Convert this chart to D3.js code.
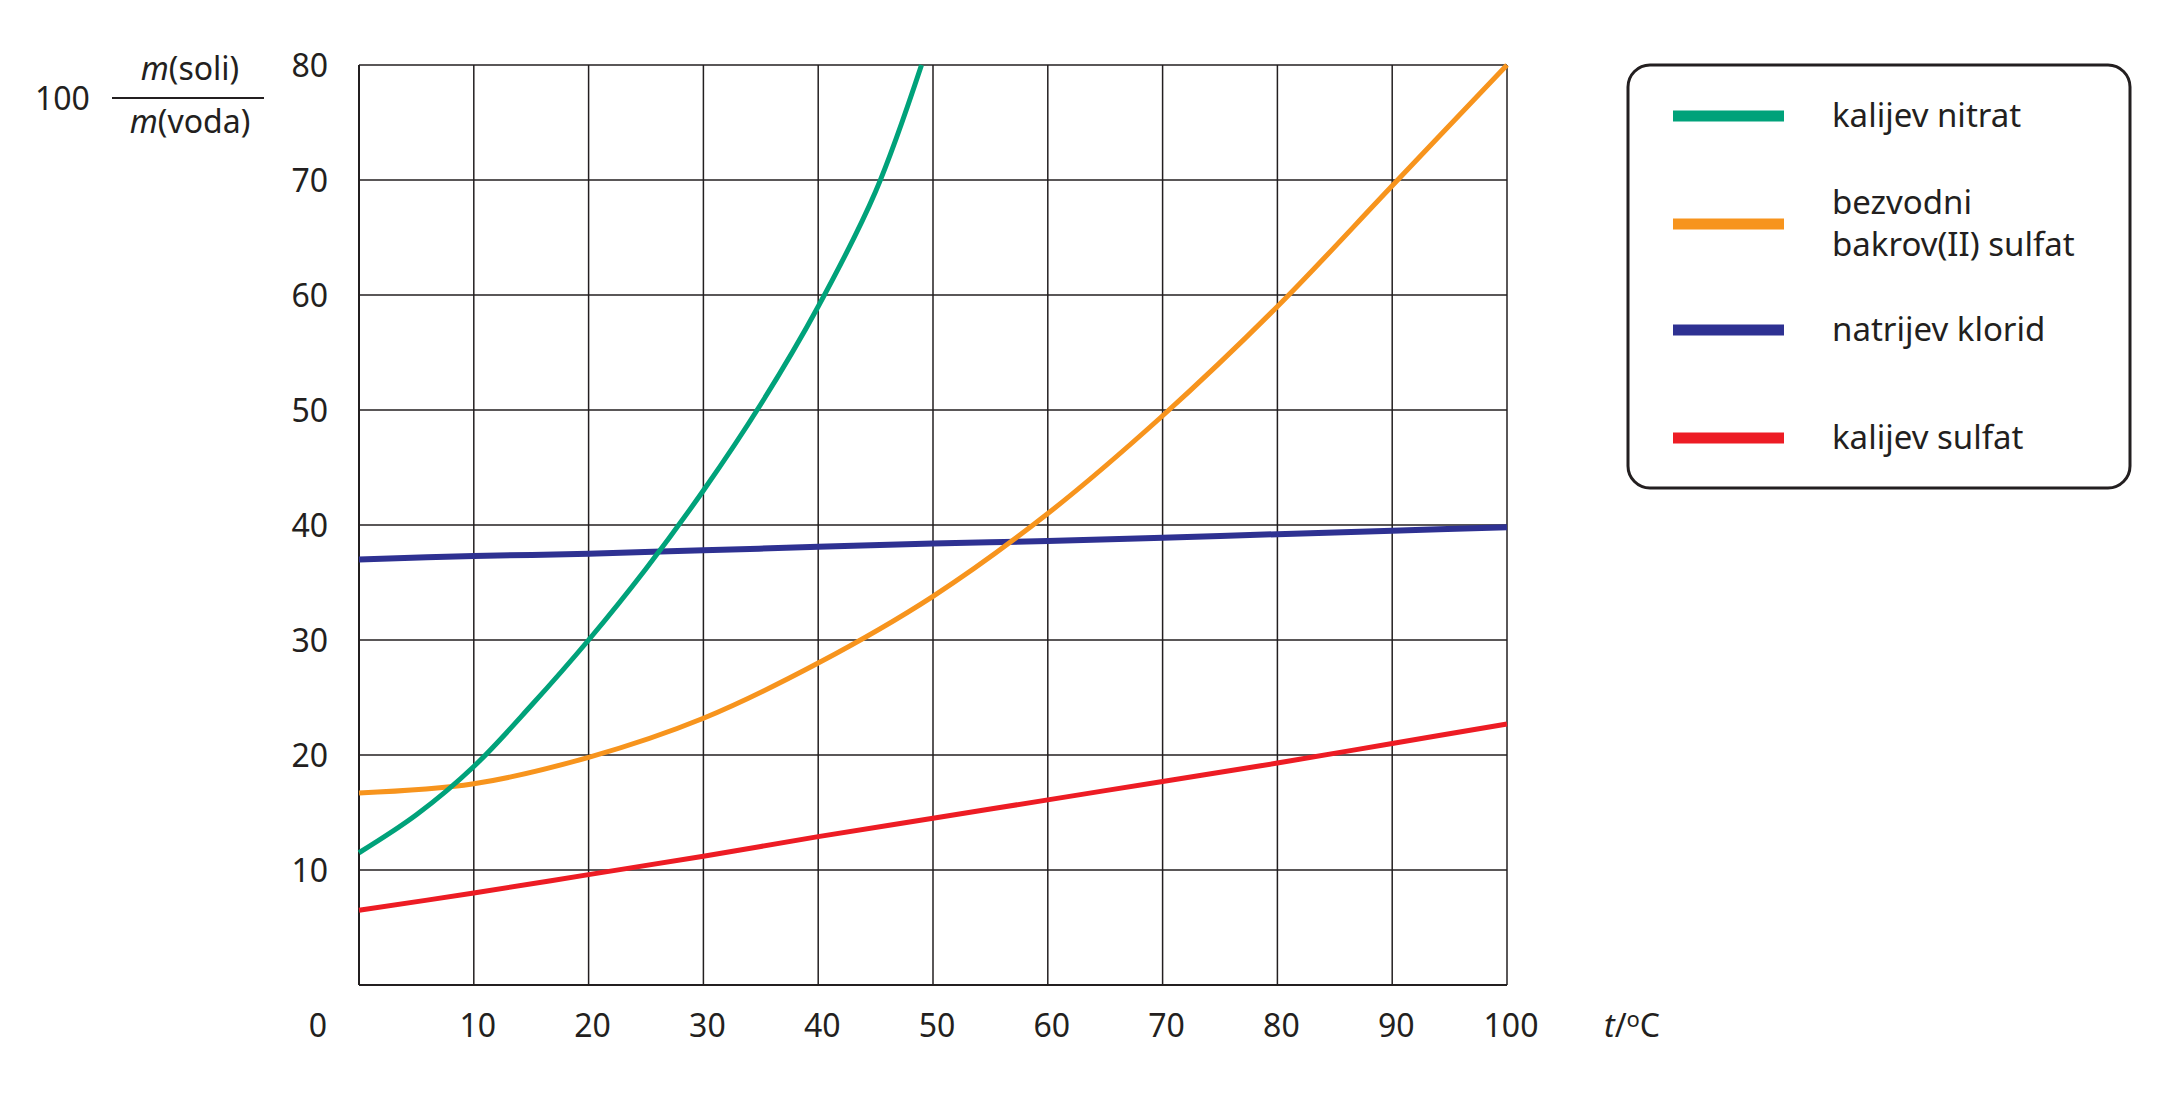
<!DOCTYPE html>
<html><head><meta charset="utf-8">
<script src="https://cdn.jsdelivr.net/npm/d3@7"></script>
<style>
body{margin:0;background:#fff;}
text{font-family:"Noto Sans","Open Sans",sans-serif;fill:#231f20;}
</style></head>
<body><svg id="chart" width="2168" height="1103"></svg>
<script>
var temps = [0, 10, 20, 30, 40, 50, 60, 70, 80, 90, 100];
var xTicks = [10, 20, 30, 40, 50, 60, 70, 80, 90, 100];
var yTicks = [10, 20, 30, 40, 50, 60, 70, 80];

var kno3T = [0, 5, 10, 15, 20, 25, 30, 35, 40, 45, 49];
var kno3V = [11.5, 14.8, 19, 24.3, 30, 36.2, 43, 50.5, 59, 69, 80];
var cuso4V = [16.7, 17.5, 19.8, 23.2, 28, 33.8, 41, 49.5, 59, 69.5, 80];
var naclV = [37, 37.3, 37.5, 37.8, 38.1, 38.4, 38.6, 38.9, 39.2, 39.5, 39.8];
var k2so4V = [6.5, 8.0, 9.6, 11.2, 12.9, 14.5, 16.1, 17.7, 19.3, 21.0, 22.7];

var seriesNames = ["kalijev nitrat", ["bezvodni", "bakrov(II) sulfat"], "natrijev klorid", "kalijev sulfat"];
var seriesColors = ["#00a27a", "#f7941d", "#2e3192", "#ed1c24"];

var svg = d3.select("#chart");
var x = d3.scaleLinear().domain([0, 100]).range([359, 1507]);
var y = d3.scaleLinear().domain([0, 80]).range([985, 65]);

var grid = svg.append("g");
grid.selectAll(".v").data(xTicks).enter().append("line")
  .attr("x1", x).attr("x2", x).attr("y1", y(0)).attr("y2", y(80))
  .attr("stroke", "#231f20").attr("stroke-width", 1.5);
grid.selectAll(".h").data(yTicks).enter().append("line")
  .attr("y1", y).attr("y2", y).attr("x1", x(0)).attr("x2", x(100))
  .attr("stroke", "#231f20").attr("stroke-width", 1.5);
grid.append("line").attr("x1", x(0)).attr("x2", x(0)).attr("y1", y(0)).attr("y2", y(80)).attr("stroke", "#231f20").attr("stroke-width", 2);
grid.append("line").attr("x1", x(0)).attr("x2", x(100)).attr("y1", y(0)).attr("y2", y(0)).attr("stroke", "#231f20").attr("stroke-width", 2);

svg.selectAll(".yl").data(yTicks).enter().append("text")
  .attr("x", 328).attr("y", function(d){ return y(d) + 12; })
  .attr("text-anchor", "end").attr("font-size", 32).text(function(d){ return d; });
svg.selectAll(".xl").data(xTicks).enter().append("text")
  .attr("x", function(d){ return x(d) + 4; }).attr("y", 1037)
  .attr("text-anchor", "middle").attr("font-size", 32).text(function(d){ return d; });
svg.append("text").attr("x", 318).attr("y", 1037).attr("text-anchor", "middle").attr("font-size", 32).text("0");

var xl = svg.append("text").attr("x", 1604).attr("y", 1037).attr("font-size", 32);
xl.append("tspan").attr("font-style", "italic").text("t");
xl.append("tspan").text("/");
xl.append("tspan").attr("font-size", 22).attr("dy", -10).text("o");
xl.append("tspan").attr("dy", 10).text("C");

svg.append("text").attr("x", 35).attr("y", 110).attr("font-size", 32).text("100");
var num = svg.append("text").attr("x", 190).attr("y", 80).attr("text-anchor", "middle").attr("font-size", 32);
num.append("tspan").attr("font-style", "italic").text("m");
num.append("tspan").text("(soli)");
var den = svg.append("text").attr("x", 190).attr("y", 133).attr("text-anchor", "middle").attr("font-size", 32);
den.append("tspan").attr("font-style", "italic").text("m");
den.append("tspan").text("(voda)");
svg.append("line").attr("x1", 112).attr("x2", 264).attr("y1", 98).attr("y2", 98).attr("stroke", "#231f20").attr("stroke-width", 2);

var line = d3.line().x(function(d){ return x(d[0]); }).y(function(d){ return y(d[1]); }).curve(d3.curveCatmullRom);
var series = [
  d3.zip(kno3T, kno3V), d3.zip(temps, cuso4V), d3.zip(temps, naclV), d3.zip(temps, k2so4V)
];
var order = [3, 2, 1, 0];
order.forEach(function(i){
  svg.append("path").datum(series[i]).attr("d", line).attr("fill", "none")
    .attr("stroke", seriesColors[i]).attr("stroke-width", i === 2 ? 6 : 5);
});

var lg = svg.append("g");
lg.append("rect").attr("x", 1628).attr("y", 65).attr("width", 502).attr("height", 423).attr("rx", 22)
  .attr("fill", "none").attr("stroke", "#231f20").attr("stroke-width", 3);
var rowY = [116, 224, 330, 438];
seriesNames.forEach(function(n, i){
  lg.append("line").attr("x1", 1673).attr("x2", 1784).attr("y1", rowY[i]).attr("y2", rowY[i])
    .attr("stroke", seriesColors[i]).attr("stroke-width", 11);
  var lines = Array.isArray(n) ? n : [n];
  lines.forEach(function(s, j){
    lg.append("text").attr("x", 1832).attr("y", rowY[i] + 11 + (j - (lines.length - 1) / 2) * 42)
      .attr("font-size", 33).text(s);
  });
});
</script></body></html>
